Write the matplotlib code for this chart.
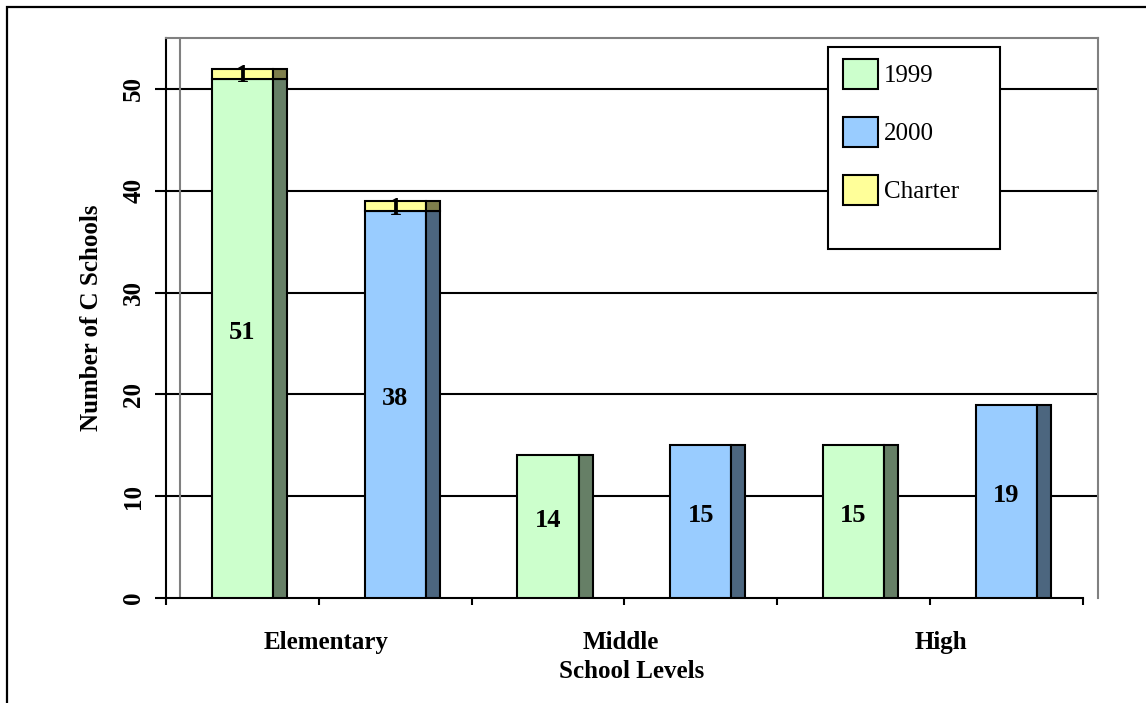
import numpy as np
import matplotlib.pyplot as plt
from matplotlib.patches import Patch, Rectangle

levels = ["Elementary", "Middle", "High"]
series = ["1999", "2000"]
vals_1999 = [51, 14, 15]
vals_2000 = [38, 15, 19]
charter_1999 = [1, 0, 0]
charter_2000 = [1, 0, 0]
yticks = [0, 10, 20, 30, 40, 50]

front = {"1999": "#CCFFCC", "2000": "#99CCFF", "Charter": "#FFFF99"}
side = {"1999": "#667F66", "2000": "#4C667F", "Charter": "#7F7F4C"}

plt.rcParams['font.family'] = ['Liberation Serif', 'DejaVu Serif']
fs = 18
W, H = 1146, 703

fig = plt.figure(figsize=(11.46, 7.03), dpi=100)
# outer frame
fig.patches.append(Rectangle((7 / W, -0.05), 1.2, 1 - 7 / H + 0.05, transform=fig.transFigure,
                             fill=False, ec="black", lw=1.6))
ax = fig.add_axes([166 / W, 1 - 598 / H, (1098 - 166) / W, (598 - 38) / H])

w = 0.4      # front face width
d = 0.092    # side depth
for i in range(len(levels)):
    for j, (s, v, c) in enumerate([("1999", vals_1999, charter_1999), ("2000", vals_2000, charter_2000)]):
        x = 2 * i + j + 0.5
        ax.bar(x, v[i], width=w, color=front[s], edgecolor="black", lw=1.5, zorder=3)
        ax.bar(x + w / 2 + d / 2, v[i], width=d, color=side[s], edgecolor="black", lw=1.5, zorder=3)
        ax.text(x, v[i] / 2 + 0.6, str(v[i]), ha="center", va="center", fontsize=fs + 1,
                fontweight="bold", zorder=5)
        if c[i]:
            ax.bar(x, c[i], bottom=v[i], width=w, color=front["Charter"], edgecolor="black", lw=1.5, zorder=3)
            ax.bar(x + w / 2 + d / 2, c[i], bottom=v[i], width=d, color=side["Charter"],
                   edgecolor="black", lw=1.5, zorder=3)
            ax.text(x, v[i] + c[i] / 2 - 0.2, str(c[i]), ha="center", va="center", fontsize=fs + 1,
                    fontweight="bold", zorder=5)

ax.set_xlim(0, 6.1)
ax.set_ylim(0, 55)
for yv in yticks[1:]:
    ax.axhline(yv, color="black", lw=1.5, zorder=1)
ax.axvline(d, color="#808080", lw=1.5, zorder=1)

ax.set_yticks(yticks)
ax.set_yticklabels([str(t) for t in yticks], fontsize=fs, fontweight="bold")
ax.tick_params(axis="y", labelrotation=90, length=8, width=1.5, pad=7)
ax.set_xticks(range(7))
ax.set_xticklabels([])
ax.set_xticks([1.05, 2.98, 5.07], minor=True)
ax.set_xticklabels(levels, minor=True, fontsize=fs, fontweight="bold")
ax.tick_params(axis="x", which="major", length=5, width=1.5, direction="out")
ax.tick_params(axis="x", which="minor", length=0, pad=24)
for lab in ax.get_yticklabels():
    lab.set_verticalalignment("center")

ax.spines["bottom"].set_bounds(0, 6)
ax.spines["bottom"].set_linewidth(1.5)
ax.spines["left"].set_linewidth(1.5)
ax.spines["top"].set_color("#808080")
ax.spines["right"].set_color("#808080")
ax.spines["top"].set_linewidth(1.5)
ax.spines["right"].set_linewidth(1.5)

ax.set_xlabel("School Levels", fontsize=fs, fontweight="bold", labelpad=4)
ax.set_ylabel("Number of C Schools", fontsize=fs, fontweight="bold", labelpad=14)

# legend box drawn by hand, entries by legend()
fig.patches.append(Rectangle((828 / W, 1 - 249 / H), 172 / W, 202 / H, transform=fig.transFigure,
                             facecolor="white", ec="black", lw=1.5, zorder=9))
handles = [Patch(facecolor=front[k], edgecolor="black", lw=1.5, label=k) for k in ["1999", "2000", "Charter"]]
leg = fig.legend(handles=handles, loc="upper left", bbox_to_anchor=(825 / W, 1 - 41 / H),
                 frameon=False, prop={"size": fs}, handlelength=1.4, handleheight=1.5,
                 labelspacing=1.1, handletextpad=0.25, borderpad=0.7, borderaxespad=0)
leg.set_zorder(10)

fig.savefig("out.png", dpi=100)
